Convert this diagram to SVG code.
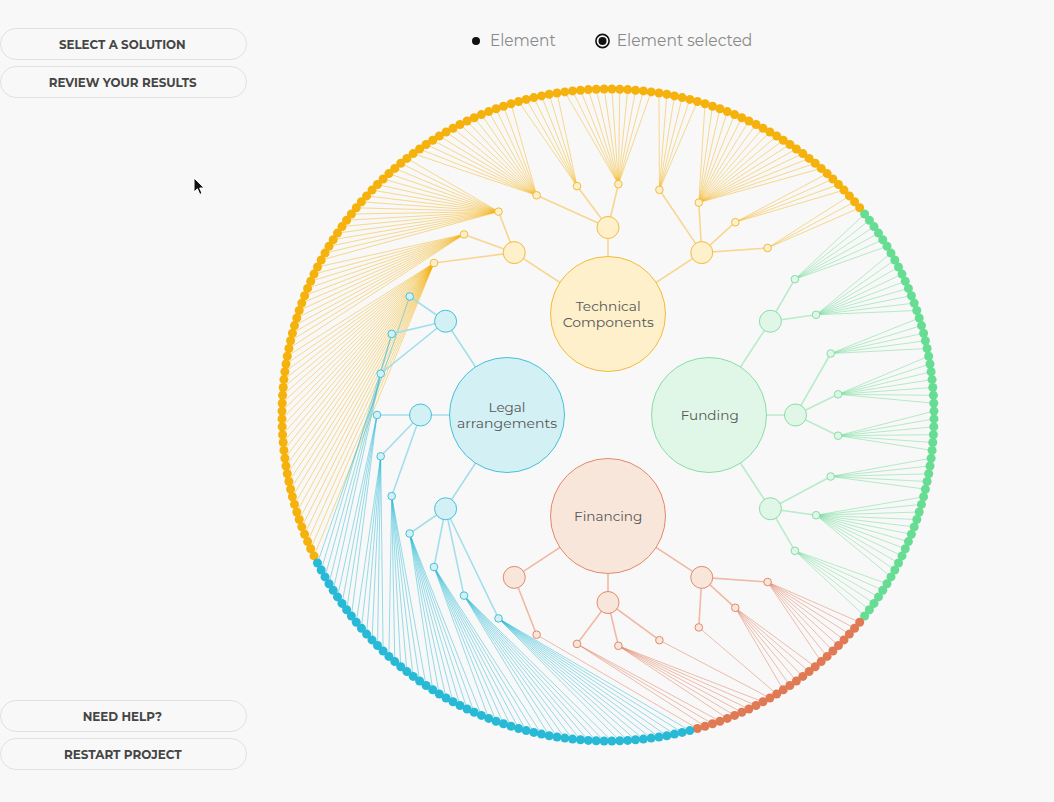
<svg xmlns="http://www.w3.org/2000/svg" width="1054" height="802" viewBox="0 0 1054 802">
<style>
.f{font-family:"Montserrat","Inter","Liberation Sans",sans-serif}
.btn rect{fill:#f8f8f8;stroke:#e1e1e1;stroke-width:1}
.btn text{font-weight:700;font-size:12px;fill:#454545;text-anchor:middle}
.leg text{font-size:17px;fill:#8a8a8a}
.lbl{font-size:13px;fill:#575757;text-anchor:middle}
.lo path{stroke:#f5b10c;stroke-opacity:.46;stroke-width:1;fill:none}
.lg path{stroke:#5fd98c;stroke-opacity:.45;stroke-width:1;fill:none}
.lr path{stroke:#e07a55;stroke-opacity:.48;stroke-width:1;fill:none}
.lc path{stroke:#27b9d5;stroke-opacity:.48;stroke-width:1;fill:none}
.eo{stroke:#f8d690;stroke-width:1.6;fill:none}
.eg{stroke:#b8ecca;stroke-width:1.6;fill:none}
.er{stroke:#f0b9a4;stroke-width:1.6;fill:none}
.ec{stroke:#a3dfeb;stroke-width:1.6;fill:none}
.no circle{fill:#fdf0cb;stroke:#f4bb3a;stroke-width:1}
.ng circle{fill:#e0f7e8;stroke:#86dea8;stroke-width:1}
.nr circle{fill:#f8e6db;stroke:#e3896c;stroke-width:1}
.nc circle{fill:#d3f0f5;stroke:#45c1da;stroke-width:1}
.dot-o circle{fill:#f5b10c}
.dot-g circle{fill:#67dd93}
.dot-r circle{fill:#e07a55}
.dot-c circle{fill:#27b9d5}
</style>
<rect width="1054" height="802" fill="#f8f8f8"/>

<g id="buttons" class="btn f">
<g id="btn-select"><rect x="0.5" y="28.5" width="246" height="31" rx="15.5"/><text x="122.3" y="48.7" textLength="126.7" lengthAdjust="spacingAndGlyphs">SELECT A SOLUTION</text></g>
<g id="btn-review"><rect x="0.5" y="66.5" width="246" height="31" rx="15.5"/><text x="122.7" y="86.7" textLength="148" lengthAdjust="spacingAndGlyphs">REVIEW YOUR RESULTS</text></g>
<g id="btn-help"><rect x="0.5" y="700.5" width="246" height="31" rx="15.5"/><text x="122.3" y="721.3" textLength="79.3" lengthAdjust="spacingAndGlyphs">NEED HELP?</text></g>
<g id="btn-restart"><rect x="0.5" y="738.5" width="246" height="31" rx="15.5"/><text x="122.8" y="759" textLength="117.7" lengthAdjust="spacingAndGlyphs">RESTART PROJECT</text></g>
</g>

<g id="legend" class="leg f">
<circle cx="476" cy="41" r="4" fill="#111"/>
<text x="490" y="46" textLength="65.7" lengthAdjust="spacingAndGlyphs">Element</text>
<circle cx="602.5" cy="41" r="6.6" fill="none" stroke="#111" stroke-width="1.6"/>
<circle cx="602.5" cy="41" r="4" fill="#111"/>
<text x="616.7" y="46" textLength="135.7" lengthAdjust="spacingAndGlyphs">Element selected</text>
</g>

<g id="connectors">
<g class="lo">
<path d="M434 263L314 555.9"/><path d="M434 263L310.7 548.8"/><path d="M434 263L307.6 541.6"/><path d="M434 263L304.6 534.3"/><path d="M434 263L301.8 526.9"/><path d="M434 263L299.2 519.5"/><path d="M434 263L296.8 512"/><path d="M434 263L294.5 504.4"/><path d="M434 263L292.4 496.8"/><path d="M434 263L290.6 489.2"/><path d="M434 263L288.9 481.5"/><path d="M434 263L287.3 473.8"/><path d="M434 263L286 466"/><path d="M434 263L284.9 458.2"/><path d="M434 263L283.9 450.4"/><path d="M434 263L283.2 442.5"/><path d="M434 263L282.6 434.7"/><path d="M434 263L282.2 426.8"/><path d="M434 263L282 418.9"/><path d="M434 263L282 411.1"/><path d="M434 263L282.2 403.2"/><path d="M434 263L282.6 395.3"/><path d="M434 263L283.2 387.5"/><path d="M434 263L283.9 379.6"/><path d="M434 263L284.9 371.8"/><path d="M434 263L286 364"/><path d="M434 263L287.3 356.2"/>
<path d="M464 234.4L288.9 348.5"/><path d="M464 234.4L290.6 340.8"/><path d="M464 234.4L292.4 333.2"/><path d="M464 234.4L294.5 325.6"/><path d="M464 234.4L296.8 318"/><path d="M464 234.4L299.2 310.5"/><path d="M464 234.4L301.8 303.1"/><path d="M464 234.4L304.6 295.7"/><path d="M464 234.4L307.6 288.4"/><path d="M464 234.4L310.7 281.2"/><path d="M464 234.4L314 274.1"/><path d="M464 234.4L317.5 267"/>
<path d="M498.5 211.6L321.2 260"/><path d="M498.5 211.6L325 253.1"/><path d="M498.5 211.6L329 246.3"/><path d="M498.5 211.6L333.2 239.7"/><path d="M498.5 211.6L337.5 233.1"/><path d="M498.5 211.6L342 226.6"/><path d="M498.5 211.6L346.6 220.2"/><path d="M498.5 211.6L351.4 214"/><path d="M498.5 211.6L356.3 207.8"/><path d="M498.5 211.6L361.4 201.8"/><path d="M498.5 211.6L366.6 195.9"/><path d="M498.5 211.6L372 190.1"/><path d="M498.5 211.6L377.5 184.5"/><path d="M498.5 211.6L383.1 179"/><path d="M498.5 211.6L388.9 173.6"/><path d="M498.5 211.6L394.8 168.4"/><path d="M498.5 211.6L400.8 163.3"/><path d="M498.5 211.6L406.9 158.4"/>
<path d="M536.6 195.3L413.2 153.6"/><path d="M536.6 195.3L419.6 149"/><path d="M536.6 195.3L426.1 144.5"/><path d="M536.6 195.3L432.7 140.2"/><path d="M536.6 195.3L439.3 136"/><path d="M536.6 195.3L446.1 132"/><path d="M536.6 195.3L453 128.2"/><path d="M536.6 195.3L460 124.5"/><path d="M536.6 195.3L467.1 121"/><path d="M536.6 195.3L474.2 117.7"/><path d="M536.6 195.3L481.4 114.6"/><path d="M536.6 195.3L488.7 111.6"/><path d="M536.6 195.3L496.1 108.8"/><path d="M536.6 195.3L503.5 106.2"/><path d="M536.6 195.3L511 103.8"/>
<path d="M577 186.1L518.6 101.5"/><path d="M577 186.1L526.2 99.4"/><path d="M577 186.1L533.8 97.6"/><path d="M577 186.1L541.5 95.9"/><path d="M577 186.1L549.2 94.3"/><path d="M577 186.1L557 93"/>
<path d="M618.4 184.2L564.8 91.9"/><path d="M618.4 184.2L572.6 90.9"/><path d="M618.4 184.2L580.5 90.2"/><path d="M618.4 184.2L588.3 89.6"/><path d="M618.4 184.2L596.2 89.2"/><path d="M618.4 184.2L604.1 89"/><path d="M618.4 184.2L611.9 89"/><path d="M618.4 184.2L619.8 89.2"/><path d="M618.4 184.2L627.7 89.6"/><path d="M618.4 184.2L635.5 90.2"/><path d="M618.4 184.2L643.4 90.9"/><path d="M618.4 184.2L651.2 91.9"/>
<path d="M659.4 189.8L659 93"/><path d="M659.4 189.8L666.8 94.3"/><path d="M659.4 189.8L674.5 95.9"/><path d="M659.4 189.8L682.2 97.6"/><path d="M659.4 189.8L689.8 99.4"/><path d="M659.4 189.8L697.4 101.5"/>
<path d="M698.8 202.6L705 103.8"/><path d="M698.8 202.6L712.5 106.2"/><path d="M698.8 202.6L719.9 108.8"/><path d="M698.8 202.6L727.3 111.6"/><path d="M698.8 202.6L734.6 114.6"/><path d="M698.8 202.6L741.8 117.7"/><path d="M698.8 202.6L748.9 121"/><path d="M698.8 202.6L756 124.5"/><path d="M698.8 202.6L763 128.2"/><path d="M698.8 202.6L769.9 132"/><path d="M698.8 202.6L776.7 136"/><path d="M698.8 202.6L783.3 140.2"/><path d="M698.8 202.6L789.9 144.5"/><path d="M698.8 202.6L796.4 149"/><path d="M698.8 202.6L802.8 153.6"/><path d="M698.8 202.6L809.1 158.4"/><path d="M698.8 202.6L815.2 163.3"/><path d="M698.8 202.6L821.2 168.4"/>
<path d="M735.3 222.2L827.1 173.6"/><path d="M735.3 222.2L832.9 179"/><path d="M735.3 222.2L838.5 184.5"/><path d="M735.3 222.2L844 190.1"/>
<path d="M767.6 248L849.4 195.9"/><path d="M767.6 248L854.6 201.8"/><path d="M767.6 248L859.7 207.8"/>
</g>
<g class="lg">
<path d="M794.9 279.2L864.6 214"/><path d="M794.9 279.2L869.4 220.2"/><path d="M794.9 279.2L874 226.6"/><path d="M794.9 279.2L878.5 233.1"/><path d="M794.9 279.2L882.8 239.7"/><path d="M794.9 279.2L887 246.3"/>
<path d="M816.1 314.8L891 253.1"/><path d="M816.1 314.8L894.8 260"/><path d="M816.1 314.8L898.5 267"/><path d="M816.1 314.8L902 274.1"/><path d="M816.1 314.8L905.3 281.2"/><path d="M816.1 314.8L908.4 288.4"/><path d="M816.1 314.8L911.4 295.7"/><path d="M816.1 314.8L914.2 303.1"/><path d="M816.1 314.8L916.8 310.5"/>
<path d="M830.7 353.5L919.2 318"/><path d="M830.7 353.5L921.5 325.6"/><path d="M830.7 353.5L923.6 333.2"/><path d="M830.7 353.5L925.4 340.8"/><path d="M830.7 353.5L927.1 348.5"/>
<path d="M838.1 394.3L928.7 356.2"/><path d="M838.1 394.3L930 364"/><path d="M838.1 394.3L931.1 371.8"/><path d="M838.1 394.3L932.1 379.6"/><path d="M838.1 394.3L932.8 387.5"/><path d="M838.1 394.3L933.4 395.3"/><path d="M838.1 394.3L933.8 403.2"/>
<path d="M838.1 435.7L934 411.1"/><path d="M838.1 435.7L934 418.9"/><path d="M838.1 435.7L933.8 426.8"/><path d="M838.1 435.7L933.4 434.7"/><path d="M838.1 435.7L932.8 442.5"/><path d="M838.1 435.7L932.1 450.4"/>
<path d="M830.7 476.5L931.1 458.2"/><path d="M830.7 476.5L930 466"/><path d="M830.7 476.5L928.7 473.8"/><path d="M830.7 476.5L927.1 481.5"/><path d="M830.7 476.5L925.4 489.2"/>
<path d="M816.1 515.2L923.6 496.8"/><path d="M816.1 515.2L921.5 504.4"/><path d="M816.1 515.2L919.2 512"/><path d="M816.1 515.2L916.8 519.5"/><path d="M816.1 515.2L914.2 526.9"/><path d="M816.1 515.2L911.4 534.3"/><path d="M816.1 515.2L908.4 541.6"/><path d="M816.1 515.2L905.3 548.8"/><path d="M816.1 515.2L902 555.9"/><path d="M816.1 515.2L898.5 563"/><path d="M816.1 515.2L894.8 570"/><path d="M816.1 515.2L891 576.9"/>
<path d="M794.9 550.8L887 583.7"/><path d="M794.9 550.8L882.8 590.3"/><path d="M794.9 550.8L878.5 596.9"/><path d="M794.9 550.8L874 603.4"/><path d="M794.9 550.8L869.4 609.8"/><path d="M794.9 550.8L864.6 616"/>
</g>
<g class="lr">
<path d="M767.6 582L859.7 622.2"/><path d="M767.6 582L854.6 628.2"/><path d="M767.6 582L849.4 634.1"/><path d="M767.6 582L844 639.9"/><path d="M767.6 582L838.5 645.5"/><path d="M767.6 582L832.9 651"/><path d="M767.6 582L827.1 656.4"/><path d="M767.6 582L821.2 661.6"/>
<path d="M735.3 607.8L815.2 666.7"/><path d="M735.3 607.8L809.1 671.6"/><path d="M735.3 607.8L802.8 676.4"/><path d="M735.3 607.8L796.4 681"/><path d="M735.3 607.8L789.9 685.5"/><path d="M735.3 607.8L783.3 689.8"/>
<path d="M698.8 627.4L776.7 694"/>
<path d="M659.4 640.2L769.9 698"/>
<path d="M618.4 645.8L763 701.8"/><path d="M618.4 645.8L756 705.5"/><path d="M618.4 645.8L748.9 709"/><path d="M618.4 645.8L741.8 712.3"/><path d="M618.4 645.8L734.6 715.4"/><path d="M618.4 645.8L727.3 718.4"/>
<path d="M577 643.9L719.9 721.2"/><path d="M577 643.9L712.5 723.8"/><path d="M577 643.9L705 726.2"/>
<path d="M536.6 634.7L697.4 728.5"/>
</g>
<g class="lc">
<path d="M498.5 618.4L689.8 730.6"/><path d="M498.5 618.4L682.2 732.4"/><path d="M498.5 618.4L674.5 734.1"/><path d="M498.5 618.4L666.8 735.7"/><path d="M498.5 618.4L659 737"/><path d="M498.5 618.4L651.2 738.1"/><path d="M498.5 618.4L643.4 739.1"/><path d="M498.5 618.4L635.5 739.8"/><path d="M498.5 618.4L627.7 740.4"/><path d="M498.5 618.4L619.8 740.8"/>
<path d="M464 595.6L611.9 741"/><path d="M464 595.6L604.1 741"/><path d="M464 595.6L596.2 740.8"/><path d="M464 595.6L588.3 740.4"/><path d="M464 595.6L580.5 739.8"/><path d="M464 595.6L572.6 739.1"/><path d="M464 595.6L564.8 738.1"/><path d="M464 595.6L557 737"/><path d="M464 595.6L549.2 735.7"/>
<path d="M434 567L541.5 734.1"/><path d="M434 567L533.8 732.4"/><path d="M434 567L526.2 730.6"/><path d="M434 567L518.6 728.5"/><path d="M434 567L511 726.2"/><path d="M434 567L503.5 723.8"/><path d="M434 567L496.1 721.2"/><path d="M434 567L488.7 718.4"/>
<path d="M409.7 533.5L481.4 715.4"/><path d="M409.7 533.5L474.2 712.3"/><path d="M409.7 533.5L467.1 709"/><path d="M409.7 533.5L460 705.5"/><path d="M409.7 533.5L453 701.8"/><path d="M409.7 533.5L446.1 698"/><path d="M409.7 533.5L439.3 694"/><path d="M409.7 533.5L432.7 689.8"/>
<path d="M391.7 496.1L426.1 685.5"/><path d="M391.7 496.1L419.6 681"/><path d="M391.7 496.1L413.2 676.4"/><path d="M391.7 496.1L406.9 671.6"/><path d="M391.7 496.1L400.8 666.7"/><path d="M391.7 496.1L394.8 661.6"/><path d="M391.7 496.1L388.9 656.4"/>
<path d="M380.7 456.3L383.1 651"/><path d="M380.7 456.3L377.5 645.5"/><path d="M380.7 456.3L372 639.9"/><path d="M380.7 456.3L366.6 634.1"/><path d="M380.7 456.3L361.4 628.2"/><path d="M380.7 456.3L356.3 622.2"/>
<path d="M377 415L351.4 616"/><path d="M377 415L346.6 609.8"/><path d="M377 415L342 603.4"/><path d="M377 415L337.5 596.9"/>
<path d="M380.7 373.7L333.2 590.3"/><path d="M380.7 373.7L329 583.7"/>
<path d="M391.7 333.9L325 576.9"/><path d="M391.7 333.9L321.2 570"/>
<path d="M409.7 296.5L317.5 563"/>
</g>
<path class="eo" d="M608 314L514.25 252.6M608 314L608 227.5M608 314L701.75 252.6M514.25 252.6L434 263M514.25 252.6L464 234.4M514.25 252.6L498.5 211.6M608 227.5L536.6 195.3M608 227.5L577 186.1M608 227.5L618.4 184.2M701.75 252.6L659.4 189.8M701.75 252.6L698.8 202.6M701.75 252.6L735.3 222.2M701.75 252.6L767.6 248"/>
<path class="eg" d="M709 415L770.4 321.25M709 415L795.5 415M709 415L770.4 508.75M770.4 321.25L794.9 279.2M770.4 321.25L816.1 314.8M795.5 415L830.7 353.5M795.5 415L838.1 394.3M795.5 415L838.1 435.7M770.4 508.75L830.7 476.5M770.4 508.75L816.1 515.2M770.4 508.75L794.9 550.8"/>
<path class="er" d="M608 516L701.75 577.4M608 516L608 602.5M608 516L514.25 577.4M701.75 577.4L767.6 582M701.75 577.4L735.3 607.8M701.75 577.4L698.8 627.4M608 602.5L659.4 640.2M608 602.5L618.4 645.8M608 602.5L577 643.9M514.25 577.4L536.6 634.7"/>
<path class="ec" d="M507 415L445.6 508.75M507 415L420.5 415M507 415L445.6 321.25M445.6 508.75L498.5 618.4M445.6 508.75L464 595.6M445.6 508.75L434 567M445.6 508.75L409.7 533.5M420.5 415L391.7 496.1M420.5 415L380.7 456.3M420.5 415L377 415M445.6 321.25L380.7 373.7M445.6 321.25L391.7 333.9M445.6 321.25L409.7 296.5"/>
</g>

<g id="n-technical" class="no"><circle cx="608" cy="314" r="57.5"/><text class="lbl f" x="608.2" y="311" textLength="65" lengthAdjust="spacingAndGlyphs">Technical</text><text class="lbl f" x="608.3" y="326.5" textLength="91.3" lengthAdjust="spacingAndGlyphs">Components</text></g>
<g id="n-funding" class="ng"><circle cx="709" cy="415" r="57.5"/><text class="lbl f" x="709.7" y="420" textLength="58" lengthAdjust="spacingAndGlyphs">Funding</text></g>
<g id="n-financing" class="nr"><circle cx="608" cy="516" r="57.5"/><text class="lbl f" x="608.2" y="521" textLength="68.3" lengthAdjust="spacingAndGlyphs">Financing</text></g>
<g id="n-legal" class="nc"><circle cx="507" cy="415" r="57.5"/><text class="lbl f" x="507" y="412.3" textLength="37" lengthAdjust="spacingAndGlyphs">Legal</text><text class="lbl f" x="507" y="427.8" textLength="100" lengthAdjust="spacingAndGlyphs">arrangements</text></g>

<g class="no">
<g id="n-tc-a"><circle cx="514.25" cy="252.6" r="11"/></g>
<g id="n-tc-b"><circle cx="608" cy="227.5" r="11"/></g>
<g id="n-tc-c"><circle cx="701.75" cy="252.6" r="11"/></g>
<g id="n-tc-a1"><circle cx="434" cy="263" r="3.8"/></g>
<g id="n-tc-a2"><circle cx="464" cy="234.4" r="3.8"/></g>
<g id="n-tc-a3"><circle cx="498.5" cy="211.6" r="3.8"/></g>
<g id="n-tc-b1"><circle cx="536.6" cy="195.3" r="3.8"/></g>
<g id="n-tc-b2"><circle cx="577" cy="186.1" r="3.8"/></g>
<g id="n-tc-b3"><circle cx="618.4" cy="184.2" r="3.8"/></g>
<g id="n-tc-c1"><circle cx="659.4" cy="189.8" r="3.8"/></g>
<g id="n-tc-c2"><circle cx="698.8" cy="202.6" r="3.8"/></g>
<g id="n-tc-c3"><circle cx="735.3" cy="222.2" r="3.8"/></g>
<g id="n-tc-c4"><circle cx="767.6" cy="248" r="3.8"/></g>
</g>
<g class="ng">
<g id="n-fu-a"><circle cx="770.4" cy="321.25" r="11"/></g>
<g id="n-fu-b"><circle cx="795.5" cy="415" r="11"/></g>
<g id="n-fu-c"><circle cx="770.4" cy="508.75" r="11"/></g>
<g id="n-fu-a1"><circle cx="794.9" cy="279.2" r="3.8"/></g>
<g id="n-fu-a2"><circle cx="816.1" cy="314.8" r="3.8"/></g>
<g id="n-fu-b1"><circle cx="830.7" cy="353.5" r="3.8"/></g>
<g id="n-fu-b2"><circle cx="838.1" cy="394.3" r="3.8"/></g>
<g id="n-fu-b3"><circle cx="838.1" cy="435.7" r="3.8"/></g>
<g id="n-fu-c1"><circle cx="830.7" cy="476.5" r="3.8"/></g>
<g id="n-fu-c2"><circle cx="816.1" cy="515.2" r="3.8"/></g>
<g id="n-fu-c3"><circle cx="794.9" cy="550.8" r="3.8"/></g>
</g>
<g class="nr">
<g id="n-fi-a"><circle cx="701.75" cy="577.4" r="11"/></g>
<g id="n-fi-b"><circle cx="608" cy="602.5" r="11"/></g>
<g id="n-fi-c"><circle cx="514.25" cy="577.4" r="11"/></g>
<g id="n-fi-a1"><circle cx="767.6" cy="582" r="3.8"/></g>
<g id="n-fi-a2"><circle cx="735.3" cy="607.8" r="3.8"/></g>
<g id="n-fi-a3"><circle cx="698.8" cy="627.4" r="3.8"/></g>
<g id="n-fi-b1"><circle cx="659.4" cy="640.2" r="3.8"/></g>
<g id="n-fi-b2"><circle cx="618.4" cy="645.8" r="3.8"/></g>
<g id="n-fi-b3"><circle cx="577" cy="643.9" r="3.8"/></g>
<g id="n-fi-c1"><circle cx="536.6" cy="634.7" r="3.8"/></g>
</g>
<g class="nc">
<g id="n-le-a"><circle cx="445.6" cy="508.75" r="11"/></g>
<g id="n-le-b"><circle cx="420.5" cy="415" r="11"/></g>
<g id="n-le-c"><circle cx="445.6" cy="321.25" r="11"/></g>
<g id="n-le-a1"><circle cx="498.5" cy="618.4" r="3.8"/></g>
<g id="n-le-a2"><circle cx="464" cy="595.6" r="3.8"/></g>
<g id="n-le-a3"><circle cx="434" cy="567" r="3.8"/></g>
<g id="n-le-a4"><circle cx="409.7" cy="533.5" r="3.8"/></g>
<g id="n-le-b1"><circle cx="391.7" cy="496.1" r="3.8"/></g>
<g id="n-le-b2"><circle cx="380.7" cy="456.3" r="3.8"/></g>
<g id="n-le-b3"><circle cx="377" cy="415" r="3.8"/></g>
<g id="n-le-c1"><circle cx="380.7" cy="373.7" r="3.8"/></g>
<g id="n-le-c2"><circle cx="391.7" cy="333.9" r="3.8"/></g>
<g id="n-le-c3"><circle cx="409.7" cy="296.5" r="3.8"/></g>
</g>

<g id="leaves-technical" class="dot-o">
<circle cx="314" cy="555.9" r="4.5"/><circle cx="310.7" cy="548.8" r="4.5"/><circle cx="307.6" cy="541.6" r="4.5"/><circle cx="304.6" cy="534.3" r="4.5"/><circle cx="301.8" cy="526.9" r="4.5"/><circle cx="299.2" cy="519.5" r="4.5"/><circle cx="296.8" cy="512" r="4.5"/><circle cx="294.5" cy="504.4" r="4.5"/><circle cx="292.4" cy="496.8" r="4.5"/><circle cx="290.6" cy="489.2" r="4.5"/><circle cx="288.9" cy="481.5" r="4.5"/><circle cx="287.3" cy="473.8" r="4.5"/><circle cx="286" cy="466" r="4.5"/><circle cx="284.9" cy="458.2" r="4.5"/><circle cx="283.9" cy="450.4" r="4.5"/><circle cx="283.2" cy="442.5" r="4.5"/><circle cx="282.6" cy="434.7" r="4.5"/><circle cx="282.2" cy="426.8" r="4.5"/><circle cx="282" cy="418.9" r="4.5"/><circle cx="282" cy="411.1" r="4.5"/><circle cx="282.2" cy="403.2" r="4.5"/><circle cx="282.6" cy="395.3" r="4.5"/><circle cx="283.2" cy="387.5" r="4.5"/><circle cx="283.9" cy="379.6" r="4.5"/><circle cx="284.9" cy="371.8" r="4.5"/><circle cx="286" cy="364" r="4.5"/><circle cx="287.3" cy="356.2" r="4.5"/>
<circle cx="288.9" cy="348.5" r="4.5"/><circle cx="290.6" cy="340.8" r="4.5"/><circle cx="292.4" cy="333.2" r="4.5"/><circle cx="294.5" cy="325.6" r="4.5"/><circle cx="296.8" cy="318" r="4.5"/><circle cx="299.2" cy="310.5" r="4.5"/><circle cx="301.8" cy="303.1" r="4.5"/><circle cx="304.6" cy="295.7" r="4.5"/><circle cx="307.6" cy="288.4" r="4.5"/><circle cx="310.7" cy="281.2" r="4.5"/><circle cx="314" cy="274.1" r="4.5"/><circle cx="317.5" cy="267" r="4.5"/>
<circle cx="321.2" cy="260" r="4.5"/><circle cx="325" cy="253.1" r="4.5"/><circle cx="329" cy="246.3" r="4.5"/><circle cx="333.2" cy="239.7" r="4.5"/><circle cx="337.5" cy="233.1" r="4.5"/><circle cx="342" cy="226.6" r="4.5"/><circle cx="346.6" cy="220.2" r="4.5"/><circle cx="351.4" cy="214" r="4.5"/><circle cx="356.3" cy="207.8" r="4.5"/><circle cx="361.4" cy="201.8" r="4.5"/><circle cx="366.6" cy="195.9" r="4.5"/><circle cx="372" cy="190.1" r="4.5"/><circle cx="377.5" cy="184.5" r="4.5"/><circle cx="383.1" cy="179" r="4.5"/><circle cx="388.9" cy="173.6" r="4.5"/><circle cx="394.8" cy="168.4" r="4.5"/><circle cx="400.8" cy="163.3" r="4.5"/><circle cx="406.9" cy="158.4" r="4.5"/>
<circle cx="413.2" cy="153.6" r="4.5"/><circle cx="419.6" cy="149" r="4.5"/><circle cx="426.1" cy="144.5" r="4.5"/><circle cx="432.7" cy="140.2" r="4.5"/><circle cx="439.3" cy="136" r="4.5"/><circle cx="446.1" cy="132" r="4.5"/><circle cx="453" cy="128.2" r="4.5"/><circle cx="460" cy="124.5" r="4.5"/><circle cx="467.1" cy="121" r="4.5"/><circle cx="474.2" cy="117.7" r="4.5"/><circle cx="481.4" cy="114.6" r="4.5"/><circle cx="488.7" cy="111.6" r="4.5"/><circle cx="496.1" cy="108.8" r="4.5"/><circle cx="503.5" cy="106.2" r="4.5"/><circle cx="511" cy="103.8" r="4.5"/>
<circle cx="518.6" cy="101.5" r="4.5"/><circle cx="526.2" cy="99.4" r="4.5"/><circle cx="533.8" cy="97.6" r="4.5"/><circle cx="541.5" cy="95.9" r="4.5"/><circle cx="549.2" cy="94.3" r="4.5"/><circle cx="557" cy="93" r="4.5"/>
<circle cx="564.8" cy="91.9" r="4.5"/><circle cx="572.6" cy="90.9" r="4.5"/><circle cx="580.5" cy="90.2" r="4.5"/><circle cx="588.3" cy="89.6" r="4.5"/><circle cx="596.2" cy="89.2" r="4.5"/><circle cx="604.1" cy="89" r="4.5"/><circle cx="611.9" cy="89" r="4.5"/><circle cx="619.8" cy="89.2" r="4.5"/><circle cx="627.7" cy="89.6" r="4.5"/><circle cx="635.5" cy="90.2" r="4.5"/><circle cx="643.4" cy="90.9" r="4.5"/><circle cx="651.2" cy="91.9" r="4.5"/>
<circle cx="659" cy="93" r="4.5"/><circle cx="666.8" cy="94.3" r="4.5"/><circle cx="674.5" cy="95.9" r="4.5"/><circle cx="682.2" cy="97.6" r="4.5"/><circle cx="689.8" cy="99.4" r="4.5"/><circle cx="697.4" cy="101.5" r="4.5"/>
<circle cx="705" cy="103.8" r="4.5"/><circle cx="712.5" cy="106.2" r="4.5"/><circle cx="719.9" cy="108.8" r="4.5"/><circle cx="727.3" cy="111.6" r="4.5"/><circle cx="734.6" cy="114.6" r="4.5"/><circle cx="741.8" cy="117.7" r="4.5"/><circle cx="748.9" cy="121" r="4.5"/><circle cx="756" cy="124.5" r="4.5"/><circle cx="763" cy="128.2" r="4.5"/><circle cx="769.9" cy="132" r="4.5"/><circle cx="776.7" cy="136" r="4.5"/><circle cx="783.3" cy="140.2" r="4.5"/><circle cx="789.9" cy="144.5" r="4.5"/><circle cx="796.4" cy="149" r="4.5"/><circle cx="802.8" cy="153.6" r="4.5"/><circle cx="809.1" cy="158.4" r="4.5"/><circle cx="815.2" cy="163.3" r="4.5"/><circle cx="821.2" cy="168.4" r="4.5"/>
<circle cx="827.1" cy="173.6" r="4.5"/><circle cx="832.9" cy="179" r="4.5"/><circle cx="838.5" cy="184.5" r="4.5"/><circle cx="844" cy="190.1" r="4.5"/><circle cx="849.4" cy="195.9" r="4.5"/><circle cx="854.6" cy="201.8" r="4.5"/><circle cx="859.7" cy="207.8" r="4.5"/>
</g>
<g id="leaves-funding" class="dot-g">
<circle cx="864.6" cy="214" r="4.5"/><circle cx="869.4" cy="220.2" r="4.5"/><circle cx="874" cy="226.6" r="4.5"/><circle cx="878.5" cy="233.1" r="4.5"/><circle cx="882.8" cy="239.7" r="4.5"/><circle cx="887" cy="246.3" r="4.5"/><circle cx="891" cy="253.1" r="4.5"/><circle cx="894.8" cy="260" r="4.5"/><circle cx="898.5" cy="267" r="4.5"/><circle cx="902" cy="274.1" r="4.5"/><circle cx="905.3" cy="281.2" r="4.5"/><circle cx="908.4" cy="288.4" r="4.5"/><circle cx="911.4" cy="295.7" r="4.5"/><circle cx="914.2" cy="303.1" r="4.5"/><circle cx="916.8" cy="310.5" r="4.5"/><circle cx="919.2" cy="318" r="4.5"/><circle cx="921.5" cy="325.6" r="4.5"/><circle cx="923.6" cy="333.2" r="4.5"/><circle cx="925.4" cy="340.8" r="4.5"/><circle cx="927.1" cy="348.5" r="4.5"/><circle cx="928.7" cy="356.2" r="4.5"/><circle cx="930" cy="364" r="4.5"/><circle cx="931.1" cy="371.8" r="4.5"/><circle cx="932.1" cy="379.6" r="4.5"/><circle cx="932.8" cy="387.5" r="4.5"/><circle cx="933.4" cy="395.3" r="4.5"/><circle cx="933.8" cy="403.2" r="4.5"/><circle cx="934" cy="411.1" r="4.5"/><circle cx="934" cy="418.9" r="4.5"/><circle cx="933.8" cy="426.8" r="4.5"/><circle cx="933.4" cy="434.7" r="4.5"/><circle cx="932.8" cy="442.5" r="4.5"/><circle cx="932.1" cy="450.4" r="4.5"/><circle cx="931.1" cy="458.2" r="4.5"/><circle cx="930" cy="466" r="4.5"/><circle cx="928.7" cy="473.8" r="4.5"/><circle cx="927.1" cy="481.5" r="4.5"/><circle cx="925.4" cy="489.2" r="4.5"/><circle cx="923.6" cy="496.8" r="4.5"/><circle cx="921.5" cy="504.4" r="4.5"/><circle cx="919.2" cy="512" r="4.5"/><circle cx="916.8" cy="519.5" r="4.5"/><circle cx="914.2" cy="526.9" r="4.5"/><circle cx="911.4" cy="534.3" r="4.5"/><circle cx="908.4" cy="541.6" r="4.5"/><circle cx="905.3" cy="548.8" r="4.5"/><circle cx="902" cy="555.9" r="4.5"/><circle cx="898.5" cy="563" r="4.5"/><circle cx="894.8" cy="570" r="4.5"/><circle cx="891" cy="576.9" r="4.5"/><circle cx="887" cy="583.7" r="4.5"/><circle cx="882.8" cy="590.3" r="4.5"/><circle cx="878.5" cy="596.9" r="4.5"/><circle cx="874" cy="603.4" r="4.5"/><circle cx="869.4" cy="609.8" r="4.5"/><circle cx="864.6" cy="616" r="4.5"/>
</g>
<g id="leaves-financing" class="dot-r">
<circle cx="859.7" cy="622.2" r="4.5"/><circle cx="854.6" cy="628.2" r="4.5"/><circle cx="849.4" cy="634.1" r="4.5"/><circle cx="844" cy="639.9" r="4.5"/><circle cx="838.5" cy="645.5" r="4.5"/><circle cx="832.9" cy="651" r="4.5"/><circle cx="827.1" cy="656.4" r="4.5"/><circle cx="821.2" cy="661.6" r="4.5"/><circle cx="815.2" cy="666.7" r="4.5"/><circle cx="809.1" cy="671.6" r="4.5"/><circle cx="802.8" cy="676.4" r="4.5"/><circle cx="796.4" cy="681" r="4.5"/><circle cx="789.9" cy="685.5" r="4.5"/><circle cx="783.3" cy="689.8" r="4.5"/><circle cx="776.7" cy="694" r="4.5"/><circle cx="769.9" cy="698" r="4.5"/><circle cx="763" cy="701.8" r="4.5"/><circle cx="756" cy="705.5" r="4.5"/><circle cx="748.9" cy="709" r="4.5"/><circle cx="741.8" cy="712.3" r="4.5"/><circle cx="734.6" cy="715.4" r="4.5"/><circle cx="727.3" cy="718.4" r="4.5"/><circle cx="719.9" cy="721.2" r="4.5"/><circle cx="712.5" cy="723.8" r="4.5"/><circle cx="705" cy="726.2" r="4.5"/><circle cx="697.4" cy="728.5" r="4.5"/>
</g>
<g id="leaves-legal" class="dot-c">
<circle cx="689.8" cy="730.6" r="4.5"/><circle cx="682.2" cy="732.4" r="4.5"/><circle cx="674.5" cy="734.1" r="4.5"/><circle cx="666.8" cy="735.7" r="4.5"/><circle cx="659" cy="737" r="4.5"/><circle cx="651.2" cy="738.1" r="4.5"/><circle cx="643.4" cy="739.1" r="4.5"/><circle cx="635.5" cy="739.8" r="4.5"/><circle cx="627.7" cy="740.4" r="4.5"/><circle cx="619.8" cy="740.8" r="4.5"/><circle cx="611.9" cy="741" r="4.5"/><circle cx="604.1" cy="741" r="4.5"/><circle cx="596.2" cy="740.8" r="4.5"/><circle cx="588.3" cy="740.4" r="4.5"/><circle cx="580.5" cy="739.8" r="4.5"/><circle cx="572.6" cy="739.1" r="4.5"/><circle cx="564.8" cy="738.1" r="4.5"/><circle cx="557" cy="737" r="4.5"/><circle cx="549.2" cy="735.7" r="4.5"/><circle cx="541.5" cy="734.1" r="4.5"/><circle cx="533.8" cy="732.4" r="4.5"/><circle cx="526.2" cy="730.6" r="4.5"/><circle cx="518.6" cy="728.5" r="4.5"/><circle cx="511" cy="726.2" r="4.5"/><circle cx="503.5" cy="723.8" r="4.5"/><circle cx="496.1" cy="721.2" r="4.5"/><circle cx="488.7" cy="718.4" r="4.5"/><circle cx="481.4" cy="715.4" r="4.5"/><circle cx="474.2" cy="712.3" r="4.5"/><circle cx="467.1" cy="709" r="4.5"/><circle cx="460" cy="705.5" r="4.5"/><circle cx="453" cy="701.8" r="4.5"/><circle cx="446.1" cy="698" r="4.5"/><circle cx="439.3" cy="694" r="4.5"/><circle cx="432.7" cy="689.8" r="4.5"/><circle cx="426.1" cy="685.5" r="4.5"/><circle cx="419.6" cy="681" r="4.5"/><circle cx="413.2" cy="676.4" r="4.5"/><circle cx="406.9" cy="671.6" r="4.5"/><circle cx="400.8" cy="666.7" r="4.5"/><circle cx="394.8" cy="661.6" r="4.5"/><circle cx="388.9" cy="656.4" r="4.5"/><circle cx="383.1" cy="651" r="4.5"/><circle cx="377.5" cy="645.5" r="4.5"/><circle cx="372" cy="639.9" r="4.5"/><circle cx="366.6" cy="634.1" r="4.5"/><circle cx="361.4" cy="628.2" r="4.5"/><circle cx="356.3" cy="622.2" r="4.5"/><circle cx="351.4" cy="616" r="4.5"/><circle cx="346.6" cy="609.8" r="4.5"/><circle cx="342" cy="603.4" r="4.5"/><circle cx="337.5" cy="596.9" r="4.5"/><circle cx="333.2" cy="590.3" r="4.5"/><circle cx="329" cy="583.7" r="4.5"/><circle cx="325" cy="576.9" r="4.5"/><circle cx="321.2" cy="570" r="4.5"/><circle cx="317.5" cy="563" r="4.5"/>
</g>

<path id="cursor" d="M194 178L194 192L197.4 188.8L199.8 194.4L202 193.4L199.7 188L204.2 188Z" fill="#111" stroke="#fff" stroke-width="1" stroke-linejoin="round"/>
</svg>
